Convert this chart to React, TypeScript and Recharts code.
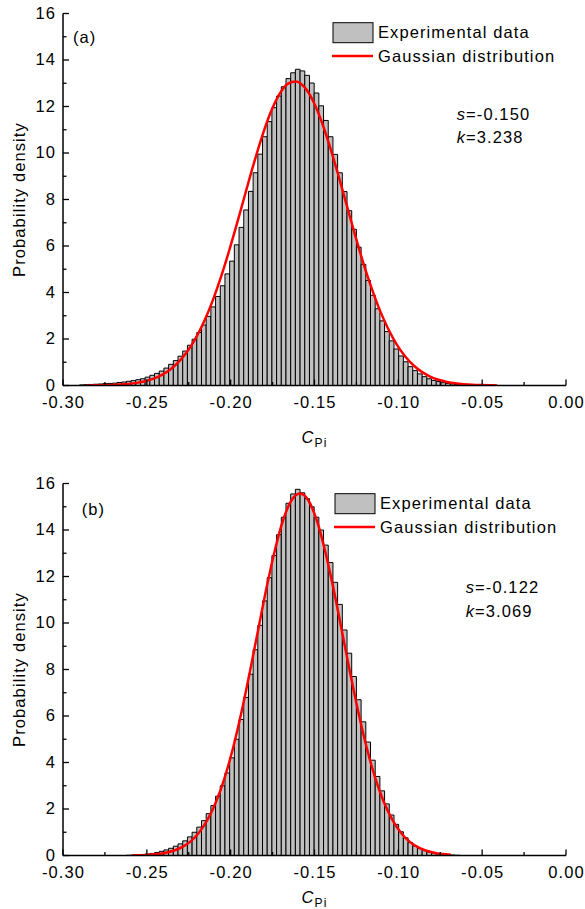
import React from "react"
import { ComposedChart, Bar, Line, XAxis, YAxis, Legend } from "recharts"

// bin centres shared by both histograms (bin width 0.0028)
const binCenters = [
  -0.2888, -0.286, -0.2832, -0.2804, -0.2776, -0.2748, -0.272, -0.2692, -0.2664, -0.2636,
  -0.2608, -0.258, -0.2552, -0.2524, -0.2496, -0.2468, -0.244, -0.2412, -0.2384, -0.2356,
  -0.2328, -0.23, -0.2272, -0.2244, -0.2216, -0.2188, -0.216, -0.2132, -0.2104, -0.2076,
  -0.2048, -0.202, -0.1992, -0.1964, -0.1936, -0.1908, -0.188, -0.1852, -0.1824, -0.1796,
  -0.1768, -0.174, -0.1712, -0.1684, -0.1656, -0.1628, -0.16,
  -0.1572, -0.1544, -0.1516, -0.1488, -0.146, -0.1432, -0.1404, -0.1376, -0.1348, -0.132,
  -0.1292, -0.1264, -0.1236, -0.1208, -0.118, -0.1152, -0.1124, -0.1096, -0.1068, -0.104,
  -0.1012, -0.0984, -0.0956, -0.0928, -0.09, -0.0872, -0.0844, -0.0816, -0.0788, -0.076,
  -0.0732, -0.0704, -0.0676, -0.0648, -0.062, -0.0592, -0.0564, -0.0536, -0.0508, -0.048,
  -0.0452, -0.0424, -0.0396,
]

// panel (a) experimental histogram
const densityA = [
  0.025, 0.035, 0.045, 0.055, 0.065, 0.08, 0.09, 0.1, 0.13, 0.15,
  0.18, 0.21, 0.25, 0.29, 0.36, 0.44, 0.52, 0.62, 0.75, 0.91,
  1.07, 1.26, 1.48, 1.73, 1.99, 2.28, 2.6, 2.97, 3.38, 3.83,
  4.29, 4.8, 5.35, 6.05, 6.8, 7.55, 8.35, 9.15, 9.95, 10.7,
  11.35, 11.95, 12.45, 12.85, 13.2, 13.45, 13.6,
  13.53, 13.34, 13.01, 12.58, 12.03, 11.4, 10.7, 9.94, 9.15, 8.34,
  7.52, 6.72, 5.95, 5.21, 4.52, 3.88, 3.3, 2.78, 2.32, 1.92,
  1.57, 1.27, 1.02, 0.81, 0.64, 0.5, 0.38, 0.29, 0.22, 0.17,
  0.12, 0.09, 0.066, 0.047, 0.034, 0.024, 0.017, 0.012, 0.008, 0.005,
  0.003, 0.002, 0.001,
]

// panel (b) experimental histogram
const densityB = [
  0, 0, 0, 0, 0, 0, 0, 0, 0, 0,
  0.01, 0.02, 0.03, 0.04, 0.06, 0.09, 0.13, 0.18, 0.24, 0.31,
  0.4, 0.5, 0.63, 0.8, 1.0, 1.22, 1.5, 1.8, 2.15, 2.55,
  3.0, 3.55, 4.2, 5.0, 5.85, 6.8, 7.8, 8.85, 9.9, 10.95,
  11.95, 12.9, 13.8, 14.55, 15.15, 15.55, 15.75,
  15.6, 15.35, 15.0, 14.55, 14.0, 13.35, 12.6, 11.75, 10.8, 9.7,
  8.7, 7.7, 6.7, 5.75, 4.88, 4.1, 3.4, 2.78, 2.22, 1.74,
  1.34, 1.02, 0.76, 0.56, 0.41, 0.3, 0.21, 0.15, 0.1, 0.07,
  0.05, 0.03, 0.02, 0.01, 0, 0, 0, 0, 0, 0,
  0, 0, 0,
]

// fitted Gaussian curves
const gaussAX = [
  -0.286, -0.281, -0.276, -0.271, -0.266, -0.261, -0.256, -0.251, -0.246, -0.241,
  -0.236, -0.231, -0.226, -0.221, -0.216, -0.211, -0.206, -0.201, -0.196, -0.191,
  -0.186, -0.181, -0.176, -0.171, -0.166, -0.161, -0.156, -0.151, -0.146, -0.141,
  -0.136, -0.131, -0.126, -0.121, -0.116, -0.111, -0.106, -0.101, -0.096, -0.091,
  -0.086, -0.081, -0.076, -0.071, -0.066, -0.061, -0.056, -0.051, -0.046, -0.041,
]
const gaussAY = [
  0.0034, 0.0065, 0.012, 0.022, 0.039, 0.067, 0.113, 0.185, 0.295, 0.457,
  0.689, 1.012, 1.448, 2.014, 2.73, 3.597, 4.618, 5.774, 7.026, 8.323,
  9.597, 10.77, 11.77, 12.52, 12.97, 13.07, 12.83, 12.26, 11.4, 10.32,
  9.1, 7.81, 6.52, 5.3, 4.2, 3.23, 2.43, 1.77, 1.26, 0.87,
  0.586, 0.385, 0.245, 0.153, 0.092, 0.054, 0.031, 0.017, 0.0094, 0.005,
]
const gaussBX = [
  -0.2587, -0.2537, -0.2487, -0.2437, -0.2387, -0.2337, -0.2287, -0.2237, -0.2187, -0.2137,
  -0.2087, -0.2037, -0.1987, -0.1937, -0.1887, -0.1837, -0.1787, -0.1737, -0.1687, -0.1637,
  -0.1587, -0.1537, -0.1487, -0.1437, -0.1387, -0.1337, -0.1287, -0.1237, -0.1187, -0.1137,
  -0.1087, -0.1037, -0.0987, -0.0937, -0.0887, -0.0837, -0.0787, -0.0737, -0.0687,
]
const gaussBY = [
  0.0076, 0.016, 0.032, 0.063, 0.118, 0.213, 0.37, 0.62, 1.0, 1.55,
  2.31, 3.32, 4.59, 6.12, 7.84, 9.67, 11.48, 13.11, 14.43, 15.28,
  15.57, 15.28, 14.43, 13.11, 11.48, 9.67, 7.84, 6.12, 4.59, 3.32,
  2.31, 1.55, 1.0, 0.62, 0.37, 0.213, 0.118, 0.063, 0.032,
]

const xTicks = [-0.3, -0.275, -0.25, -0.225, -0.2, -0.175, -0.15, -0.125, -0.1, -0.075, -0.05, -0.025, 0]
const yTicks = [0, 1, 2, 3, 4, 5, 6, 7, 8, 9, 10, 11, 12, 13, 14, 15, 16]

const histRows = binCenters.map((x, i) => ({ x, a: densityA[i], b: densityB[i] }))
const curveA = gaussAX.map((x, i) => ({ x, y: gaussAY[i] }))
const curveB = gaussBX.map((x, i) => ({ x, y: gaussBY[i] }))

const W = 585
const PLOT_TOP = 13.5
const PLOT_H = 372
const FONT = '"Liberation Sans", Arial, Helvetica, sans-serif'
const FS = 16.5
const LS = 1.1
const axisLine = { stroke: "#000", strokeWidth: 1.5 }

const isMajorX = (v: number) => Math.abs(Math.round(v * 1000)) % 50 === 0
const isMajorY = (v: number) => v % 2 === 0

function BottomTick({ x, y, payload }: any) {
  const major = isMajorX(payload.value)
  return (
    <g>
      <line x1={x} y1={y} x2={x} y2={y - (major ? 6 : 3.5)} stroke="#000" strokeWidth={1.3} />
      {major && (
        <text x={x + 0.5} y={y + 22.5} textAnchor="middle" fontFamily={FONT} fontSize={FS} letterSpacing={LS} fill="#000">
          {payload.value.toFixed(2)}
        </text>
      )}
    </g>
  )
}

function TopTick({ x, y, payload }: any) {
  const major = isMajorX(payload.value)
  return <line x1={x} y1={y} x2={x} y2={y + (major ? 6 : 3.5)} stroke="#000" strokeWidth={1.3} />
}

function LeftTick({ x, y, payload }: any) {
  const major = isMajorY(payload.value)
  return (
    <g>
      <line x1={x} y1={y} x2={x + (major ? 6 : 3.5)} y2={y} stroke="#000" strokeWidth={1.3} />
      {major && (
        <text x={x - 7} y={y} dy="0.33em" textAnchor="end" fontFamily={FONT} fontSize={FS} letterSpacing={LS} fill="#000">
          {payload.value}
        </text>
      )}
    </g>
  )
}

function RightTick({ x, y, payload }: any) {
  const major = isMajorY(payload.value)
  return <line x1={x} y1={y} x2={x - (major ? 6 : 3.5)} y2={y} stroke="#000" strokeWidth={1.3} />
}

function XTitle({ viewBox, dy }: any) {
  const cx = viewBox.x + viewBox.width / 2
  return (
    <text x={cx} y={viewBox.y + dy} textAnchor="middle" fontFamily={FONT} fontSize={FS} letterSpacing={LS} fill="#000">
      <tspan fontStyle="italic">C</tspan>
      <tspan fontSize={12} dy={4}>Pi</tspan>
    </text>
  )
}

function YTitle({ viewBox }: any) {
  const cx = viewBox.x + 25
  const cy = viewBox.y + viewBox.height / 2
  return (
    <text x={cx} y={cy} transform={`rotate(-90 ${cx} ${cy})`} textAnchor="middle" fontFamily={FONT} fontSize={FS} letterSpacing={LS} fill="#000">
      Probability density
    </text>
  )
}

function LegendBox({ payload }: any) {
  const items = [...(payload ?? [])].sort((m: any, n: any) => (m.type === "rect" ? 0 : 1) - (n.type === "rect" ? 0 : 1))
  return (
    <svg width={250} height={50} style={{ display: "block", overflow: "visible" }}>
      {items.map((it: any, i: number) => (
        <g key={it.value}>
          {it.type === "rect" ? (
            <rect x={1} y={0.7} width={40} height={20} fill="#c0c0c0" stroke="#000" strokeWidth={1} />
          ) : (
            <line x1={0} x2={41} y1={34} y2={34} stroke="#ff0000" strokeWidth={2.5} />
          )}
          <text x={46} y={i === 0 ? 15.7 : 39.7} fontFamily={FONT} fontSize={FS} letterSpacing={LS} fill="#000">
            {it.value}
          </text>
        </g>
      ))}
    </svg>
  )
}

interface PanelProps {
  top: number
  height: number
  barKey: "a" | "b"
  curve: { x: number; y: number }[]
  tag: string
  tagPos: [number, number]
  s: string
  k: string
  statPos: [number, number]
  legendPos: [number, number]
  titleDy: number
}

function Panel(p: PanelProps) {
  const xAxisHeight = p.height - PLOT_TOP - PLOT_H
  return (
    <div style={{ position: "absolute", left: 0, top: p.top, width: W, height: p.height }}>
      <ComposedChart width={W} height={p.height} data={histRows} margin={{ top: PLOT_TOP, right: 19, bottom: 0, left: 0 }}>
        <XAxis
          xAxisId="bottom"
          dataKey="x"
          type="number"
          domain={[-0.3, 0]}
          ticks={xTicks}
          interval={0}
          tickSize={0}
          tickMargin={0}
          height={xAxisHeight}
          axisLine={axisLine}
          tickLine={false}
          tick={<BottomTick />}
          label={<XTitle dy={p.titleDy} />}
          allowDataOverflow
        />
        {/* top frame axis; it also carries the fitted curve so the bar band size stays the bin width */}
        <XAxis
          xAxisId="top"
          orientation="top"
          dataKey="x"
          type="number"
          domain={[-0.3, 0]}
          ticks={xTicks}
          interval={0}
          tickSize={0}
          tickMargin={0}
          height={0}
          axisLine={axisLine}
          tickLine={false}
          tick={<TopTick />}
          allowDataOverflow
        />
        <YAxis
          yAxisId="left"
          type="number"
          domain={[0, 16]}
          ticks={yTicks}
          interval={0}
          tickSize={0}
          tickMargin={0}
          width={63}
          axisLine={axisLine}
          tickLine={false}
          tick={<LeftTick />}
          label={<YTitle />}
          allowDataOverflow
        />
        <YAxis
          yAxisId="right"
          orientation="right"
          type="number"
          domain={[0, 16]}
          ticks={yTicks}
          interval={0}
          tickSize={0}
          tickMargin={0}
          width={0}
          axisLine={axisLine}
          tickLine={false}
          tick={<RightTick />}
          allowDataOverflow
        />
        <Legend
          layout="vertical"
          align="center"
          verticalAlign="middle"
          wrapperStyle={{ left: p.legendPos[0], top: p.legendPos[1], width: 250, height: 50 }}
          content={<LegendBox />}
        />
        <Bar
          xAxisId="bottom"
          yAxisId="left"
          dataKey={p.barKey}
          name="Experimental data"
          legendType="rect"
          fill="#c0c0c0"
          stroke="#000"
          strokeWidth={1}
          barSize={4.69}
          isAnimationActive={false}
        />
        <Line
          xAxisId="top"
          yAxisId="left"
          data={p.curve}
          dataKey="y"
          name="Gaussian distribution"
          legendType="line"
          type="monotone"
          stroke="#ff0000"
          strokeWidth={2.5}
          dot={false}
          activeDot={false}
          isAnimationActive={false}
        />
      </ComposedChart>
      <svg width={W} height={p.height} style={{ position: "absolute", left: 0, top: 0, pointerEvents: "none" }}>
        <text x={p.tagPos[0]} y={p.tagPos[1]} fontFamily={FONT} fontSize={FS} letterSpacing={LS} fill="#000">
          {p.tag}
        </text>
        <text x={p.statPos[0]} y={p.statPos[1]} fontFamily={FONT} fontSize={FS} letterSpacing={LS} fill="#000">
          <tspan fontStyle="italic">s</tspan>={p.s}
        </text>
        <text x={p.statPos[0]} y={p.statPos[1] + 23.3} fontFamily={FONT} fontSize={FS} letterSpacing={LS} fill="#000">
          <tspan fontStyle="italic">k</tspan>={p.k}
        </text>
      </svg>
    </div>
  )
}

export default function App() {
  return (
    <div style={{ position: "absolute", left: 0, top: 0, width: W, height: 909, background: "#fff", fontFamily: FONT }}>
      <Panel
        top={0}
        height={460}
        barKey="a"
        curve={curveA}
        tag="(a)"
        tagPos={[73, 43.3]}
        s="-0.150"
        k="3.238"
        statPos={[456.7, 120]}
        legendPos={[332, 22]}
        titleDy={57}
      />
      <Panel
        top={470}
        height={439}
        barKey="b"
        curve={curveB}
        tag="(b)"
        tagPos={[81.7, 45]}
        s="-0.122"
        k="3.069"
        statPos={[465.7, 123.3]}
        legendPos={[333.5, 23.3]}
        titleDy={47}
      />
    </div>
  )
}
